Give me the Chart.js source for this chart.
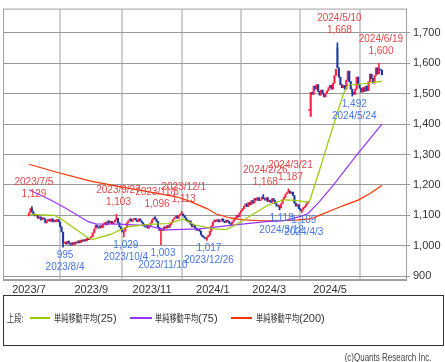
<!DOCTYPE html>
<html>
<head>
<meta charset="utf-8">
<script src="https://cdn.jsdelivr.net/npm/chart.js@4.4.0/dist/chart.umd.min.js"></script>
<style>
  body { margin:0; background:#fff; width:445px; height:362px; overflow:hidden; position:relative;
         font-family:"Liberation Sans Narrow","Arial Narrow","Liberation Sans",sans-serif; color:#333; }
  #wrap { position:absolute; left:0; top:0; width:445px; height:300px; }
  #legend { position:absolute; left:3px; top:295px; width:441px; height:51px; border:1px solid #333; box-sizing:border-box; }
  .lg { position:absolute; font-size:11px; line-height:12px; white-space:nowrap; }
  .cj { font-family:"Noto Sans CJK JP",sans-serif; font-size:10px; transform:scaleX(0.72); transform-origin:left center; }
  .sw { position:absolute; height:2px; }
  #copy { position:absolute; right:14px; top:352px; font-size:10px; color:#444; white-space:nowrap;
          transform:scaleX(0.8); transform-origin:right center; }
</style>
</head>
<body>
<div id="wrap"><canvas id="c" width="445" height="300"></canvas></div>
<div id="legend"></div>
<div class="lg cj" style="left:7px;top:312px;">上段:</div>
<div class="sw" style="left:30px;width:20px;top:317px;background:#99cc00;"></div>
<div class="lg cj" style="left:54px;top:312px;">単純移動平均</div><div class="lg" style="left:97px;top:312px;">(25)</div>
<div class="sw" style="left:130px;width:22px;top:317px;background:#9933ff;"></div>
<div class="lg cj" style="left:155px;top:312px;">単純移動平均</div><div class="lg" style="left:198px;top:312px;">(75)</div>
<div class="sw" style="left:231px;width:21px;top:317px;background:#ff3300;"></div>
<div class="lg cj" style="left:256px;top:312px;">単純移動平均</div><div class="lg" style="left:299px;top:312px;">(200)</div>
<div id="copy">(c)Quants Research Inc.</div>
<script>
// 日足終値（月ごと、営業日順）
const jul23 = [1108,1122,1112,1104,1098,1100,1090,1095,1085,1092,1088,1075,1083,1086,1080,1088,1078,1084,1080,1086];
const aug23 = [1078,1062,1045,1008,1012,1005,1015,1008,1002,1010,1004,1012,1008,1016,1010,1018,1014,1020,1016,1024,1020,1026];
const sep23 = [1030,1042,1055,1068,1062,1058,1066,1060,1070,1076,1068,1082,1074,1080,1072,1078,1084,1090,1075,1062];
const oct23 = [1055,1045,1048,1060,1075,1082,1088,1080,1086,1090,1084,1079,1088,1082,1076,1070,1062,1068,1058,1064,1075];
const nov23 = [1085,1092,1088,1080,1060,1050,1055,1050,1062,1058,1066,1060,1070,1078,1086,1092,1098,1090,1100,1104];
const dec23 = [1105,1098,1092,1085,1078,1082,1070,1062,1066,1058,1050,1055,1048,1035,1030,1026,1022,1028,1034,1048,1065];
const jan24 = [1078,1084,1080,1086,1078,1082,1088,1080,1076,1084,1080,1074,1070,1078,1085,1092,1100,1095,1108];
const feb24 = [1115,1122,1130,1138,1128,1142,1135,1148,1140,1155,1150,1158,1148,1152,1160,1155,1150,1158,1145];
const mar24 = [1150,1142,1155,1148,1138,1130,1132,1124,1138,1152,1160,1170,1175,1180,1172,1176,1165,1140,1130,1135];
const apr24 = [1122,1115,1118,1125,1130,1138,1145,1445,1505,1498,1525,1515,1530,1508,1495,1512,1500,1490,1502,1510,1520];
const may24 = [1528,1515,1535,1560,1580,1585,1555,1530,1520,1528,1515,1545,1575,1540,1515,1505,1498,1515,1555,1530,1518];
const jun24 = [1505,1520,1508,1525,1510,1540,1565,1550,1535,1560,1585,1565,1580,1578,1562];

const monthNames = ['2023/7','2023/8','2023/9','2023/10','2023/11','2023/12','2024/1','2024/2','2024/3','2024/4','2024/5','2024/6'];
const monthCloses = [jul23,aug23,sep23,oct23,nov23,dec23,jan24,feb24,mar24,apr24,may24,jun24];

// 窓を開けた日の始値
const gapIdx = [189, 190, 208];
const gapOpen = [1445, 1425, 1650];

// 高値・安値の注記
const markIdx   = [2, 59, 85, 103, 158, 175, 208, 236, 23, 64, 89, 120, 169, 184, 218];
const markPrice = [1129, 1103, 1096, 1113, 1168, 1187, 1668, 1600, 995, 1029, 1003, 1017, 1118, 1109, 1492];
const markType  = ['H','H','H','H','H','H','H','H','L','L','L','L','L','L','L'];
const markDate  = ['2023/7/5','2023/9/27','2023/11/6','2023/12/1','2024/2/26','2024/3/21','2024/5/10','2024/6/19',
                   '2023/8/4','2023/10/4','2023/11/10','2023/12/26','2024/3/12','2024/4/3','2024/5/24'];

// 移動平均（営業日インデックス, 値）
const sma25Idx = [0,17,21,40,43,55,66,81,94,104,112,125,133,141,150,161,172,180,189,196,203,212,215,225,238];
const sma25Val = [1103,1100,1090,1025,1021,1037,1062,1070,1073,1087,1068,1055,1053,1073,1100,1133,1151,1149,1143,1250,1360,1500,1528,1533,1541];
const sma75Idx = [0,14,26,40,45,60,80,92,115,142,160,172,182,188,195,205,220,238];
const sma75Val = [1184,1152,1120,1079,1072,1071,1066,1052,1055,1070,1079,1082,1095,1105,1140,1198,1292,1400];
const sma200Idx = [0,20,41,60,82,100,109,120,126,135,143,156,170,182,190,197,203,212,222,230,238];
const sma200Val = [1268,1240,1213,1195,1176,1160,1145,1122,1105,1092,1086,1082,1082,1085,1088,1102,1114,1132,1150,1172,1198];

const UP = '#ff2244', DOWN = '#1c3a9e';
const FONT = '"Liberation Sans Narrow","Arial Narrow","Liberation Sans",sans-serif';

const closes = monthCloses.flat();
const monthStart = [];
monthCloses.reduce((n, m) => { monthStart.push(n); return n + m.length; }, 0);
const tickIdx = monthStart.filter((_, k) => k % 2 === 0);
const tickLbl = monthNames.filter((_, k) => k % 2 === 0);

const opens = closes.map((c, i) => {
  const g = gapIdx.indexOf(i);
  if (g >= 0) return gapOpen[g];
  return i === 0 ? 1098 : closes[i - 1];
});
const candles = closes.map((c, i) => ({ x: i, y: [opens[i], c] }));
const candleCol = closes.map((c, i) => (c >= opens[i] ? UP : DOWN));

const wicks = markIdx.map((i, k) => {
  const top = Math.max(opens[i], closes[i]), bot = Math.min(opens[i], closes[i]);
  return { x: i, y: markType[k] === 'H' ? [top, markPrice[k]] : [markPrice[k], bot] };
});
const wickCol = markIdx.map((i) => candleCol[i]);

const pts = (ix, vals) => ix.map((v, k) => ({ x: v, y: vals[k] }));

const overlay = {
  id: 'overlay',
  afterDatasetsDraw(chart) {
    const { ctx, chartArea: a, scales: { x, y } } = chart;
    ctx.save();
    ctx.strokeStyle = '#a0a0a0';
    ctx.lineWidth = 1;
    ctx.strokeRect(a.left + 0.5, a.top - 0.5, a.right - a.left, a.bottom - a.top);
    ctx.font = '10px ' + FONT;
    ctx.textAlign = 'center';
    ctx.textBaseline = 'middle';
    markIdx.forEach((i, k) => {
      const px = x.getPixelForValue(i) + 2;
      const py = y.getPixelForValue(markPrice[k]);
      const txt = markPrice[k].toLocaleString('en-US');
      if (markType[k] === 'H') {
        ctx.fillStyle = '#e2474a';
        ctx.fillText(markDate[k], px, py - 24);
        ctx.fillText(txt, px, py - 12);
      } else {
        ctx.fillStyle = '#4677e6';
        ctx.fillText(txt, px, py + 8);
        ctx.fillText(markDate[k], px, py + 20);
      }
    });
    ctx.restore();
  }
};

new Chart(document.getElementById('c'), {
  type: 'bar',
  data: {
    datasets: [
      { type: 'line', data: pts(sma25Idx, sma25Val), borderColor: '#99cc00', borderWidth: 1.2, pointRadius: 0, order: 0 },
      { type: 'line', data: pts(sma75Idx, sma75Val), borderColor: '#9933ff', borderWidth: 1.2, pointRadius: 0, order: 0 },
      { type: 'line', data: pts(sma200Idx, sma200Val), borderColor: '#ff3300', borderWidth: 1.2, pointRadius: 0, order: 0 },
      { data: candles, backgroundColor: candleCol, barPercentage: 1, categoryPercentage: 1, minBarLength: 1, grouped: false, order: 1 },
      { data: wicks, backgroundColor: wickCol, barThickness: 1, grouped: false, order: 2 }
    ]
  },
  options: {
    responsive: false,
    animation: false,
    devicePixelRatio: 1,
    layout: { padding: { left: 3, top: 1, right: 0, bottom: 0 } },
    plugins: { legend: { display: false }, tooltip: { enabled: false } },
    scales: {
      x: {
        type: 'linear', min: -17.5, max: 254.25, offset: false,
        afterBuildTicks: (s) => { s.ticks = tickIdx.map((v) => ({ value: v })); },
        afterFit: (s) => { s.height = 20; },
        ticks: { callback: (v) => tickLbl[tickIdx.indexOf(v)], autoSkip: false, maxRotation: 0, padding: 3,
                 color: '#333', font: { family: FONT, size: 11 } },
        grid: { color: '#cfcfcf', lineWidth: 2, drawTicks: false },
        border: { color: '#a0a0a0' }
      },
      y: {
        position: 'right', min: 887, max: 1777,
        afterBuildTicks: (s) => { s.ticks = [900,1000,1100,1200,1300,1400,1500,1600,1700].map((v) => ({ value: v })); },
        afterFit: (s) => { s.width = 39; },
        ticks: { callback: (v) => v.toLocaleString('en-US'), padding: 3, color: '#333', font: { family: FONT, size: 11 } },
        grid: { color: '#999', lineWidth: 1, tickLength: 4 },
        border: { color: '#a0a0a0' }
      }
    }
  },
  plugins: [overlay]
});
</script>
</body>
</html>
